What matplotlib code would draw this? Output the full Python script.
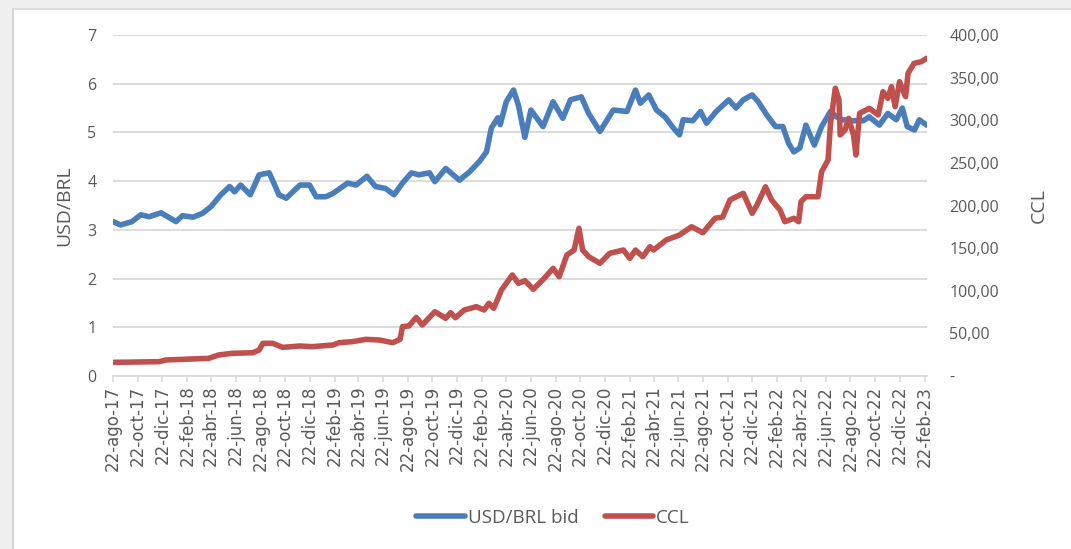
import matplotlib
matplotlib.use("Agg")
import matplotlib.pyplot as plt
from matplotlib.patches import Rectangle
from matplotlib.ticker import FuncFormatter
import pandas as pd

# ---------------- data ----------------
usd_dates = [
    "2017-08-22", "2017-09-10", "2017-10-08", "2017-10-30", "2017-11-19", "2017-12-19",
    "2018-01-25", "2018-02-10", "2018-03-08", "2018-04-01", "2018-04-22", "2018-05-16",
    "2018-06-07", "2018-06-19", "2018-07-04", "2018-07-28", "2018-08-19", "2018-09-13",
    "2018-10-07", "2018-10-25", "2018-11-28", "2018-12-22", "2019-01-07", "2019-01-31",
    "2019-02-18", "2019-03-26", "2019-04-16", "2019-05-13", "2019-06-03", "2019-06-28",
    "2019-07-19", "2019-08-09", "2019-08-31", "2019-09-18", "2019-10-15", "2019-10-28",
    "2019-11-24", "2019-12-28", "2020-01-22", "2020-02-15", "2020-03-04", "2020-03-16",
    "2020-04-01", "2020-04-07", "2020-04-22", "2020-05-10", "2020-05-22", "2020-06-07",
    "2020-06-22", "2020-07-22", "2020-08-16", "2020-09-09", "2020-09-28", "2020-10-25",
    "2020-11-12", "2020-12-10", "2021-01-12", "2021-02-15", "2021-03-08", "2021-03-20",
    "2021-04-10", "2021-04-29", "2021-05-20", "2021-06-10", "2021-06-25", "2021-07-04",
    "2021-07-28", "2021-08-16", "2021-08-31", "2021-09-24", "2021-10-25", "2021-11-12",
    "2021-11-30", "2021-12-22", "2022-01-06", "2022-01-27", "2022-02-18", "2022-03-08",
    "2022-03-22", "2022-04-04", "2022-04-19", "2022-05-04", "2022-05-25", "2022-06-12",
    "2022-07-04", "2022-07-19", "2022-08-03", "2022-08-30", "2022-09-23", "2022-10-08",
    "2022-11-02", "2022-11-23", "2022-12-14", "2022-12-29", "2023-01-10", "2023-01-28",
    "2023-02-09", "2023-02-27",
]
usd_brl_bid = [
    3.17, 3.10, 3.17, 3.31, 3.27, 3.35,
    3.17, 3.29, 3.26, 3.34, 3.48, 3.72,
    3.89, 3.78, 3.92, 3.72, 4.13, 4.17,
    3.72, 3.65, 3.92, 3.92, 3.68, 3.68,
    3.75, 3.96, 3.92, 4.10, 3.89, 3.85,
    3.72, 3.96, 4.17, 4.13, 4.17, 3.99,
    4.26, 4.02, 4.19, 4.40, 4.60, 5.09,
    5.30, 5.16, 5.63, 5.87, 5.56, 4.90,
    5.46, 5.12, 5.63, 5.29, 5.67, 5.73,
    5.39, 5.02, 5.46, 5.43, 5.87, 5.60,
    5.77, 5.46, 5.32, 5.09, 4.95, 5.26,
    5.24, 5.43, 5.19, 5.43, 5.67, 5.50,
    5.67, 5.77, 5.63, 5.36, 5.12, 5.12,
    4.78, 4.60, 4.68, 5.15, 4.74, 5.12,
    5.43, 5.32, 5.26, 5.24, 5.24, 5.32,
    5.15, 5.39, 5.26, 5.50, 5.12, 5.05,
    5.26, 5.15,
]

ccl_dates = [
    "2017-08-22", "2017-12-14", "2017-12-31", "2018-04-16", "2018-05-10", "2018-06-13",
    "2018-08-03", "2018-08-19", "2018-08-28", "2018-09-22", "2018-10-16", "2018-11-28",
    "2018-12-28", "2019-02-18", "2019-03-05", "2019-04-07", "2019-05-10", "2019-06-13",
    "2019-07-16", "2019-08-03", "2019-08-09", "2019-08-25", "2019-09-12", "2019-09-27",
    "2019-10-28", "2019-11-24", "2019-12-06", "2019-12-18", "2020-01-09", "2020-02-08",
    "2020-02-27", "2020-03-10", "2020-03-22", "2020-04-10", "2020-05-07", "2020-05-22",
    "2020-06-07", "2020-06-28", "2020-07-25", "2020-08-16", "2020-08-31", "2020-09-19",
    "2020-10-07", "2020-10-19", "2020-10-28", "2020-11-12", "2020-12-10", "2021-01-03",
    "2021-02-06", "2021-02-22", "2021-03-08", "2021-03-26", "2021-04-13", "2021-04-22",
    "2021-05-23", "2021-06-25", "2021-07-25", "2021-08-22", "2021-09-21", "2021-10-10",
    "2021-10-28", "2021-11-30", "2021-12-22", "2022-01-03", "2022-01-24", "2022-02-08",
    "2022-03-01", "2022-03-13", "2022-04-04", "2022-04-16", "2022-04-22", "2022-05-04",
    "2022-06-03", "2022-06-12", "2022-06-28", "2022-07-04", "2022-07-16", "2022-07-25",
    "2022-07-28", "2022-08-09", "2022-08-18", "2022-08-30", "2022-09-05", "2022-09-14",
    "2022-10-08", "2022-10-30", "2022-11-11", "2022-11-23", "2022-12-02", "2022-12-11",
    "2022-12-22", "2023-01-06", "2023-01-12", "2023-01-27", "2023-02-14", "2023-02-27",
]
ccl = [
    16.0, 16.8, 18.8, 20.7, 24.6, 26.6,
    27.3, 30.5, 38.3, 38.3, 33.6, 35.2,
    34.4, 36.4, 39.1, 40.3, 43.0, 42.2,
    39.1, 43.0, 57.9, 58.7, 68.8, 59.8,
    75.4, 67.7, 74.3, 68.4, 77.4, 81.3,
    77.4, 85.3, 79.4, 100.9, 118.5, 108.7,
    111.8, 101.7, 114.6, 126.3, 116.5, 141.9,
    147.8, 173.3, 147.8, 140.0, 132.2, 143.9,
    147.8, 138.0, 147.8, 140.0, 151.7, 147.8,
    159.5, 165.4, 175.1, 168.1, 185.0, 186.5,
    206.5, 214.3, 190.8, 200.6, 222.0, 206.5,
    194.7, 181.0, 185.0, 181.0, 204.5, 210.3,
    210.3, 239.7, 253.4, 296.4, 337.5, 323.8,
    282.7, 288.6, 302.3, 282.7, 259.2, 308.1,
    314.0, 306.2, 333.5, 325.7, 339.4, 315.9,
    345.2, 327.6, 355.1, 366.8, 368.7, 372.6,
]

tick_dates = pd.date_range("2017-08-01", "2023-02-01", freq="2MS") + pd.Timedelta(days=21)
month_es = {1: "ene", 2: "feb", 3: "mar", 4: "abr", 5: "may", 6: "jun",
            7: "jul", 8: "ago", 9: "sep", 10: "oct", 11: "nov", 12: "dic"}
tick_labels = [f"22-{month_es[d.month]}-{d.strftime('%y')}" for d in tick_dates]

left_ticks = [0, 1, 2, 3, 4, 5, 6, 7]
right_ticks = [0, 50, 100, 150, 200, 250, 300, 350, 400]

# ---------------- figure ----------------
BLUE = "#4a7ebb"
RED = "#c0504d"
GRID = "#d9d9d9"
TXT = "#595959"
FONT = ["Open Sans", "DejaVu Sans"]

fig = plt.figure(figsize=(10.71, 5.49), dpi=100)
fig.patch.set_facecolor("white")
W, H = 1071, 549
fig.add_artist(Rectangle((0, 0), 12 / W, 1, transform=fig.transFigure,
                         facecolor="#f0f0f0", edgecolor="none", zorder=0))
fig.add_artist(Rectangle((0, 1 - 8 / H), 1, 8 / H, transform=fig.transFigure,
                         facecolor="#f0f0f0", edgecolor="none", zorder=0))
fig.add_artist(Rectangle((12 / W, 0), 2 / W, 1 - 8 / H, transform=fig.transFigure,
                         facecolor="#d4d4d4", edgecolor="none", zorder=0))
fig.add_artist(Rectangle((12 / W, 1 - 10 / H), 1 - 12 / W, 2 / H, transform=fig.transFigure,
                         facecolor="#dcdcdc", edgecolor="none", zorder=0))

ax = fig.add_axes([113 / W, 1 - 376 / H, (927 - 113) / W, (376 - 35) / H])
ax2 = ax.twinx()

x_usd = pd.to_datetime(usd_dates)
x_ccl = pd.to_datetime(ccl_dates)

l1, = ax.plot(x_usd, usd_brl_bid, color=BLUE, lw=4.0, solid_joinstyle="round",
              solid_capstyle="round", label="USD/BRL bid", zorder=3)
l2, = ax2.plot(x_ccl, ccl, color=RED, lw=4.0, solid_joinstyle="round",
               solid_capstyle="round", label="CCL", zorder=3)

ax.set_ylim(0, 7)
ax2.set_ylim(0, 400)
ax.set_yticks(left_ticks)
ax2.set_yticks(right_ticks)
ax.set_xlim(pd.Timestamp("2017-08-22"), pd.Timestamp("2023-02-28"))

ax.set_xticks(tick_dates)
ax.set_xticklabels(tick_labels, rotation=90, fontsize=12, color=TXT,
                   family=["Liberation Sans Narrow", "DejaVu Sans"])

ax.yaxis.grid(True, color=GRID, lw=1.3)
ax.set_axisbelow(True)
for a in (ax, ax2):
    for s in ("left", "right", "top"):
        a.spines[s].set_visible(False)
ax.spines["bottom"].set_color(GRID)
ax.spines["bottom"].set_linewidth(1.3)
ax2.spines["bottom"].set_visible(False)

ax.tick_params(axis="x", direction="out", length=4, width=1.1, color=GRID, pad=3)
ax.tick_params(axis="y", length=0, pad=12, labelsize=11.5, labelcolor=TXT)
ax2.tick_params(axis="y", length=0, pad=16, labelsize=11.5, labelcolor=TXT)
for lab in ax.get_yticklabels() + ax2.get_yticklabels():
    lab.set_family(FONT)

ax2.yaxis.set_major_formatter(FuncFormatter(
    lambda v, p: "-" if v == 0 else f"{v:.2f}".replace(".", ",")))

ax.set_ylabel("USD/BRL", fontsize=14, color=TXT, family=FONT, labelpad=10)
ax2.set_ylabel("CCL", fontsize=14, color=TXT, family=FONT, labelpad=22)

leg = fig.legend([l1, l2], ["USD/BRL bid", "CCL"], loc="center",
                 bbox_to_anchor=(553 / W, 1 - 518 / H), ncol=2, frameon=False,
                 handlelength=2.6, handletextpad=0.15, columnspacing=1.4,
                 prop={"family": FONT, "size": 13.5})
for t in leg.get_texts():
    t.set_color(TXT)

fig.savefig("out.png", dpi=100)
